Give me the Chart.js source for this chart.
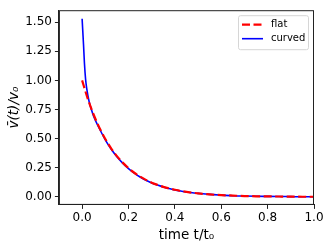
<!DOCTYPE html>
<html>
<head>
<meta charset="utf-8">
<script src="https://cdn.jsdelivr.net/npm/chart.js@4"></script>
<style>
  html, body { margin: 0; padding: 0; background: #fff; }
</style>
</head>
<body>
<canvas id="decayChart" width="332" height="247"></canvas>
<script>
// values
const timeFlat = [0, 0.025, 0.05, 0.075, 0.1, 0.125, 0.15, 0.175, 0.2, 0.225, 0.25, 0.275, 0.3, 0.325, 0.35, 0.375, 0.4, 0.425, 0.45, 0.475, 0.5,
  0.55, 0.6, 0.65, 0.7, 0.75, 0.8, 0.85, 0.9, 0.95, 1.0];
const flatValues = [1.000, 0.839, 0.705, 0.592, 0.497, 0.417, 0.350, 0.294, 0.247, 0.207, 0.174, 0.146, 0.122, 0.103, 0.086, 0.072, 0.061, 0.051, 0.043, 0.036, 0.030,
  0.021, 0.015, 0.011, 0.007, 0.005, 0.004, 0.003, 0.002, 0.001, 0.001];

const timeCurved = [0, 0.003, 0.006, 0.01, 0.015, 0.02, 0.03, 0.04, 0.05,
  0.075, 0.1, 0.125, 0.15, 0.175, 0.2, 0.225, 0.25, 0.275, 0.3, 0.325, 0.35, 0.375, 0.4, 0.425, 0.45, 0.475, 0.5,
  0.55, 0.6, 0.65, 0.7, 0.75, 0.8, 0.85, 0.9, 0.95, 1.0];
const curvedValues = [1.53, 1.42, 1.31, 1.15, 1.01, 0.93, 0.82, 0.75, 0.69,
  0.585, 0.49, 0.411, 0.345, 0.29, 0.243, 0.204, 0.171, 0.143, 0.120, 0.101, 0.085, 0.071, 0.060, 0.050, 0.042, 0.035, 0.030,
  0.021, 0.015, 0.010, 0.007, 0.005, 0.004, 0.003, 0.002, 0.001, 0.001];

const seriesNames = ["flat", "curved"];
const xTicks = [0.0, 0.2, 0.4, 0.6, 0.8, 1.0];
const yTicks = [0.00, 0.25, 0.50, 0.75, 1.00, 1.25, 1.50];

const FONT = "'DejaVu Sans', sans-serif";

function pairs(xs, ys) {
  return xs.map((x, i) => ({ x: x, y: ys[i] }));
}

// matplotlib style box around the axes + legend in the upper right
const framePlugin = {
  id: "frame",
  afterDraw(chart) {
    const ctx = chart.ctx;
    const a = chart.chartArea;
    ctx.save();
    ctx.strokeStyle = "#222";
    ctx.lineWidth = 1;
    ctx.strokeRect(a.left + 0.5, a.top + 0.5, a.right - a.left - 1, a.bottom - a.top - 1);

    // legend
    const bx = a.right - 76, by = a.top + 5, bw = 70, bh = 34;
    ctx.fillStyle = "rgba(255,255,255,0.8)";
    ctx.strokeStyle = "#d6d6d6";
    ctx.beginPath();
    ctx.roundRect(bx + 0.5, by + 0.5, bw, bh, 2);
    ctx.fill();
    ctx.stroke();
    ctx.font = "10px " + FONT;
    ctx.textBaseline = "middle";
    ctx.fillStyle = "#000";
    chart.data.datasets.forEach((ds, i) => {
      const y = by + 9.5 + i * 14;
      ctx.strokeStyle = ds.borderColor;
      ctx.lineWidth = ds.borderWidth;
      ctx.setLineDash(ds.borderDash || []);
      ctx.beginPath();
      ctx.moveTo(bx + 4, y);
      ctx.lineTo(bx + 25, y);
      ctx.stroke();
      ctx.setLineDash([]);
      ctx.fillText(ds.label, bx + 33, y);
    });
    ctx.restore();
  }
};

new Chart(document.getElementById("decayChart"), {
  type: "line",
  data: {
    datasets: [{
      label: seriesNames[0],
      data: pairs(timeFlat, flatValues),
      borderColor: "#ff0000",
      borderWidth: 2.2,
      borderDash: [8, 3.5],
      pointRadius: 0,
      cubicInterpolationMode: "monotone",
      fill: false
    }, {
      label: seriesNames[1],
      data: pairs(timeCurved, curvedValues),
      borderColor: "#0000ff",
      borderWidth: 1.6,
      pointRadius: 0,
      cubicInterpolationMode: "monotone",
      fill: false
    }]
  },
  options: {
    responsive: false,
    animation: false,
    layout: { padding: { top: 9, right: 18, bottom: 3.5, left: 6 } },
    plugins: {
      legend: { display: false },
      tooltip: { enabled: false }
    },
    scales: {
      x: {
        type: "linear",
        min: -0.1,
        max: 1.0,
        afterBuildTicks: (s) => { s.ticks = xTicks.map(v => ({ value: v })); },
        ticks: {
          color: "#000",
          font: { family: FONT, size: 12 },
          padding: 2,
          maxRotation: 0,
          callback: (v) => v.toFixed(1)
        },
        grid: { drawOnChartArea: false, tickLength: 4, tickColor: "#222" },
        border: { display: true, color: "#222" },
        title: {
          display: true,
          text: "time t/t₀",
          color: "#000",
          font: { family: FONT, size: 13.5 },
          padding: { top: 0, bottom: 0 }
        }
      },
      y: {
        type: "linear",
        min: -0.069,
        max: 1.603,
        afterBuildTicks: (s) => { s.ticks = yTicks.map(v => ({ value: v })); },
        ticks: {
          color: "#000",
          font: { family: FONT, size: 12 },
          padding: 3,
          callback: (v) => v.toFixed(2)
        },
        grid: { drawOnChartArea: false, tickLength: 4, tickColor: "#222" },
        border: { display: true, color: "#222" },
        title: {
          display: true,
          text: "v̄(t)/v₀",
          color: "#000",
          font: { family: FONT, size: 13.5, style: "italic" },
          padding: { top: 0, bottom: 0 }
        }
      }
    }
  },
  plugins: [framePlugin]
});
</script>
</body>
</html>
